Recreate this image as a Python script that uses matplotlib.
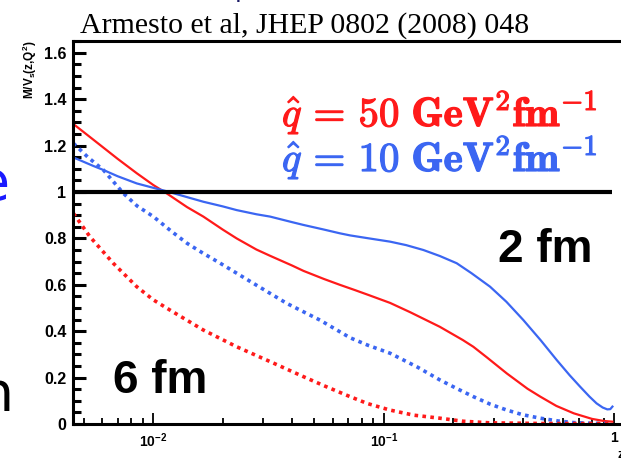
import numpy as np
import matplotlib.pyplot as plt
import matplotlib.patheffects as pe
from matplotlib.ticker import FixedLocator, MultipleLocator, LogLocator, NullFormatter

plt.rcParams['font.family'] = ['Liberation Sans', 'DejaVu Sans']
plt.rcParams['mathtext.fontset'] = 'custom'
plt.rcParams['mathtext.rm'] = 'Liberation Sans'
plt.rcParams['mathtext.bf'] = 'Liberation Sans:bold'

# medium-modified splitting / vacuum, L = 2 fm (solid) and L = 6 fm (dotted)
red_solid_x = [0.0045, 0.0055, 0.007, 0.00847, 0.01, 0.01143, 0.014, 0.01648, 0.02, 0.02298,
               0.028, 0.0321, 0.04, 0.0448, 0.055, 0.0644, 0.075, 0.0864, 0.1064, 0.13,
               0.1749, 0.22, 0.2444, 0.28, 0.3415, 0.42, 0.4771, 0.56, 0.6667, 0.8, 0.9, 0.98]
red_solid_y = [1.293, 1.225, 1.143, 1.081, 1.030, 0.994, 0.935, 0.894, 0.838, 0.800,
               0.752, 0.725, 0.683, 0.660, 0.625, 0.600, 0.577, 0.555, 0.522, 0.482,
               0.419, 0.362, 0.333, 0.287, 0.218, 0.152, 0.118, 0.078, 0.046, 0.022, 0.013, 0.010]

blue_solid_x = [0.0045, 0.0055, 0.00607, 0.007, 0.00847, 0.01, 0.01143, 0.014, 0.01648, 0.02,
                0.02298, 0.028, 0.0321, 0.04, 0.0448, 0.055, 0.0644, 0.0713, 0.085, 0.1064,
                0.125, 0.1484, 0.175, 0.2070, 0.24, 0.2888, 0.34, 0.4029, 0.48, 0.562,
                0.64, 0.710, 0.78, 0.837, 0.89, 0.932, 0.96, 0.981]
blue_solid_y = [1.149, 1.112, 1.095, 1.068, 1.037, 1.018, 1.003, 0.978, 0.958, 0.938,
                0.922, 0.904, 0.894, 0.870, 0.858, 0.838, 0.822, 0.813, 0.801, 0.786,
                0.771, 0.750, 0.724, 0.693, 0.650, 0.592, 0.527, 0.448, 0.360, 0.276,
                0.210, 0.161, 0.118, 0.089, 0.071, 0.063, 0.064, 0.075]

blue_dot_x = [0.0045, 0.0052, 0.00607, 0.00742, 0.0085, 0.0100, 0.012, 0.0140, 0.0165, 0.0195,
              0.0272, 0.0379, 0.0528, 0.0713, 0.085, 0.1064, 0.14, 0.1749, 0.21, 0.2444,
              0.29, 0.3415, 0.40, 0.4771, 0.57, 0.667, 0.8, 0.95]
blue_dot_y = [1.210, 1.150, 1.095, 0.994, 0.940, 0.894, 0.830, 0.779, 0.735, 0.693,
              0.606, 0.520, 0.448, 0.372, 0.340, 0.305, 0.245, 0.190, 0.150, 0.118,
              0.085, 0.060, 0.040, 0.025, 0.013, 0.006, 0.003, 0.002]

red_dot_x = [0.0045, 0.00531, 0.0067, 0.00847, 0.01, 0.01181, 0.01648, 0.02298, 0.0321, 0.0448,
             0.055, 0.0713, 0.085, 0.1064, 0.135, 0.1749, 0.22, 0.2888, 0.5, 0.95]
red_dot_y = [0.908, 0.807, 0.693, 0.592, 0.535, 0.491, 0.405, 0.333, 0.269, 0.204,
             0.165, 0.118, 0.088, 0.060, 0.038, 0.025, 0.012, 0.005, 0.002, 0.002]

qhat_labels = [r'$\hat{q}\,=\,\mathbf{50\ GeV^{2}fm^{-1}}$',
               r'$\hat{q}\,=\,\mathbf{10\ GeV^{2}fm^{-1}}$']
xtick_vals = [0.01, 0.1, 1]
xtick_labels = [r'$\mathbf{10^{-2}}$', r'$\mathbf{10^{-1}}$', r'$\mathbf{1}$']

RED = '#ff1a1a'
BLUE = '#3b66f2'

fig = plt.figure(figsize=(6.21, 4.61), dpi=100)
ax = fig.add_axes([73.4 / 621, 37 / 461, 550.5 / 621, 382.8 / 461])
ax.set_xscale('log')
ax.set_xlim(0.0045, 1.1)
ax.set_ylim(0, 1.65)

ax.plot(red_solid_x, red_solid_y, color=RED, lw=1.6)
ax.plot(blue_solid_x, blue_solid_y, color=BLUE, lw=1.6)
ax.plot(blue_dot_x, blue_dot_y, color=BLUE, lw=2.6, ls=(0, (1, 1.2)), dash_capstyle='butt')
ax.plot(red_dot_x, red_dot_y, color=RED, lw=2.6, ls=(0, (1, 1.2)), dash_capstyle='butt')
ax.hlines(1, 0.0045, 0.977, color='black', lw=3)

# ROOT-style frame: thick spines, ticks pointing inward
for side in ['left', 'top', 'bottom']:
    ax.spines[side].set_linewidth(2.2)
ax.spines['right'].set_visible(False)

ax.yaxis.set_minor_locator(MultipleLocator(0.05))
ax.set_yticks(np.arange(0, 1.61, 0.2))
ax.set_yticklabels(['%g' % round(v, 1) for v in np.arange(0, 1.61, 0.2)],
                   fontweight='bold', fontsize=11.5)
ax.xaxis.set_major_locator(FixedLocator(xtick_vals))
ax.set_xticklabels(xtick_labels, fontsize=10)
ax.xaxis.set_minor_locator(LogLocator(base=10, subs=np.arange(2, 10)))
ax.xaxis.set_minor_formatter(NullFormatter())

ax.tick_params(axis='y', which='major', direction='in', length=9, width=2.2, pad=5)
ax.tick_params(axis='y', which='minor', direction='in', length=5.5, width=2.2)
ax.tick_params(axis='x', which='major', direction='in', length=8, width=1.3, pad=5)
ax.tick_params(axis='x', which='minor', direction='in', length=4.5, width=1.3)

fig.text(30 / 621, 1 - 40 / 461, r'M/V$_\mathbf{s}$(z,Q$^\mathbf{2}$)', rotation=90,
         ha='center', va='top', fontsize=8.5, fontweight='bold')
fig.text(617 / 621, 1 - 458 / 461, 'z', fontsize=9, fontweight='bold', ha='left', va='baseline')

for label, col, base in zip(qhat_labels, [RED, BLUE], [126, 171]):
    fig.text(282 / 621, 1 - base / 461, label, color=col, fontsize=29.5,
             math_fontfamily='cm', va='baseline',
             path_effects=[pe.withStroke(linewidth=0.9, foreground=col)])

fig.text(498 / 621, 1 - 262 / 461, '2 fm', fontsize=33, fontweight='bold', va='baseline')
fig.text(113 / 621, 1 - 393 / 461, '6 fm', fontsize=33, fontweight='bold', va='baseline')

fig.text(80 / 621, 1 - 33 / 461, 'Armesto et al, JHEP 0802 (2008) 048',
         family='Liberation Serif', fontsize=21.5, va='baseline')

# slide text running off the left edge
fig.text(10 / 621, 1 - 200 / 461, 'e', color='#1a1aff', fontsize=40, family='DejaVu Sans',
         ha='right', va='baseline')
fig.text(14 / 621, 1 - 411 / 461, 'n', color='black', fontsize=40, family='DejaVu Sans',
         ha='right', va='baseline')
fig.text(235 / 621, 1 + 3 / 461, 'p', color='#1a1a66', fontsize=18, family='DejaVu Sans',
         va='baseline')

fig.savefig('out.png', dpi=100)
